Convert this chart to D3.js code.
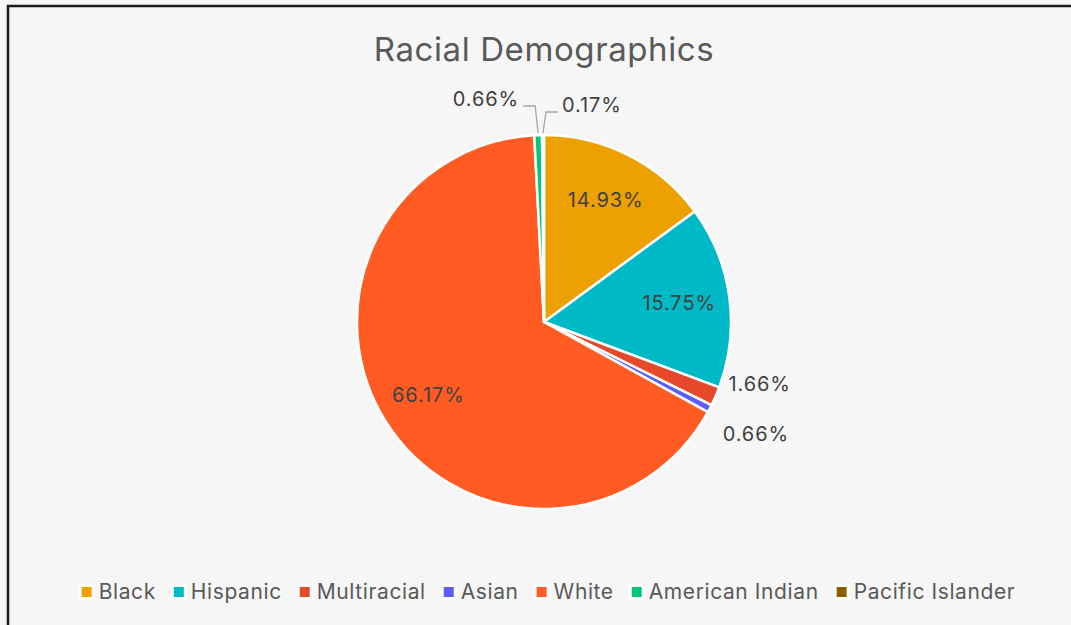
<!DOCTYPE html>
<html>
<head>
<meta charset="utf-8">
<script src="https://cdn.jsdelivr.net/npm/d3@7"></script>
<style>
  html, body { margin: 0; padding: 0; background: #f6f6f6; }
  svg { display: block; font-family: Inter, "Noto Sans", sans-serif; }
</style>
</head>
<body>
<div id="chart"></div>
<script>
const categories = ["Black", "Hispanic", "Multiracial", "Asian", "White", "American Indian", "Pacific Islander"];
const values = [14.93, 15.75, 1.66, 0.66, 66.17, 0.66, 0.17];
const colors = ["#eda100", "#00b9c7", "#e5482a", "#5b5bff", "#ff5b22", "#00c878", "#8b5e00"];
const title = "Racial Demographics";

function Config() {
    this.width = 1071;
    this.height = 625;
    this.cx = 544;
    this.cy = 322;
    this.radius = 187;
    this.labelRadius = 0.73 * this.radius;
    this.legendY = 592;
}

function drawChart(cfg) {
    const svg = d3.select("#chart").append("svg")
        .attr("width", cfg.width)
        .attr("height", cfg.height);

    // frame
    svg.append("rect")
        .attr("x", 8).attr("y", 6)
        .attr("width", 1200).attr("height", 800)
        .attr("fill", "#f6f6f6")
        .attr("stroke", "#1a1a1a")
        .attr("stroke-width", 2.5);

    svg.append("text")
        .attr("x", cfg.cx)
        .attr("y", 61)
        .attr("text-anchor", "middle")
        .attr("fill", "#595959")
        .attr("font-size", 33)
        .attr("letter-spacing", 0.6)
        .text(title);

    const data = categories.map((c, i) => ({name: c, value: values[i], color: colors[i]}));
    const pie = d3.pie().sort(null).value(d => d.value);
    const arcs = pie(data);
    const arc = d3.arc().innerRadius(0).outerRadius(cfg.radius);
    const labelArc = d3.arc().innerRadius(cfg.labelRadius).outerRadius(cfg.labelRadius);

    const g = svg.append("g").attr("transform", `translate(${cfg.cx},${cfg.cy})`);
    g.selectAll("path")
        .data(arcs)
        .join("path")
        .attr("d", arc)
        .attr("fill", d => d.data.color)
        .attr("stroke", "#ffffff")
        .attr("stroke-width", 2.5)
        .attr("stroke-linejoin", "round");

    const fmt = v => v.toFixed(2) + "%";
    const big = arcs.filter(d => d.data.value > 5);
    const small = arcs.filter(d => d.data.value <= 5);

    g.selectAll("text.inside")
        .data(big)
        .join("text")
        .attr("class", "inside")
        .attr("transform", d => `translate(${labelArc.centroid(d)})`)
        .attr("text-anchor", "middle")
        .attr("dy", "0.35em")
        .attr("fill", "#404040")
        .attr("font-size", 20)
        .attr("letter-spacing", 0.9)
        .text(d => fmt(d.data.value));

    // small slices: labels outside
    const r = cfg.radius;
    let topCount = 0, sideCount = 0;
    small.forEach(d => {
        const a = (d.startAngle + d.endAngle) / 2;
        const px = r * Math.sin(a), py = -r * Math.cos(a);
        const label = g.append("text")
            .attr("dy", "0.35em")
            .attr("fill", "#404040")
            .attr("font-size", 20)
            .attr("letter-spacing", 0.9)
            .text(fmt(d.data.value));
        if (Math.abs(py) > r * 0.9) {
            // near the top: leader line goes up then sideways (first left, next right)
            const side = topCount++ === 0 ? -1 : 1;
            const elbowY = -r - (side < 0 ? 29 : 23);
            const elbowX = px + side * 3;
            const endX = elbowX + side * 12;
            g.append("path")
                .attr("d", `M${px},${py - 2}L${elbowX},${elbowY}L${endX},${elbowY}`)
                .attr("fill", "none")
                .attr("stroke", "#a6a6a6")
                .attr("stroke-width", 1.3);
            label.attr("x", endX + side * 4)
                .attr("y", elbowY - 7)
                .attr("text-anchor", side < 0 ? "end" : "start");
        } else {
            const spread = sideCount++ === 0 ? -12 : 25;
            label.attr("x", px + 13)
                .attr("y", py + spread)
                .attr("text-anchor", "start");
        }
    });

    // legend
    const legend = svg.append("g");
    let x = 0;
    data.forEach(d => {
        const item = legend.append("g").attr("transform", `translate(${x},0)`);
        item.append("rect")
            .attr("x", 0).attr("y", -8)
            .attr("width", 16).attr("height", 16)
            .attr("rx", 2)
            .attr("fill", "#ffffff");
        item.append("rect")
            .attr("x", 3).attr("y", -5)
            .attr("width", 10).attr("height", 10)
            .attr("fill", d.color);
        const t = item.append("text")
            .attr("x", 20)
            .attr("dy", "0.35em")
            .attr("fill", "#595959")
            .attr("font-size", 21)
            .attr("letter-spacing", 0.6)
            .text(d.name);
        x += 20 + t.node().getComputedTextLength() + 15;
    });
    const total = x - 15;
    legend.attr("transform", `translate(${547 - total / 2},${cfg.legendY})`);
}

document.addEventListener("DOMContentLoaded", () => drawChart(new Config()));
</script>
</body>
</html>
